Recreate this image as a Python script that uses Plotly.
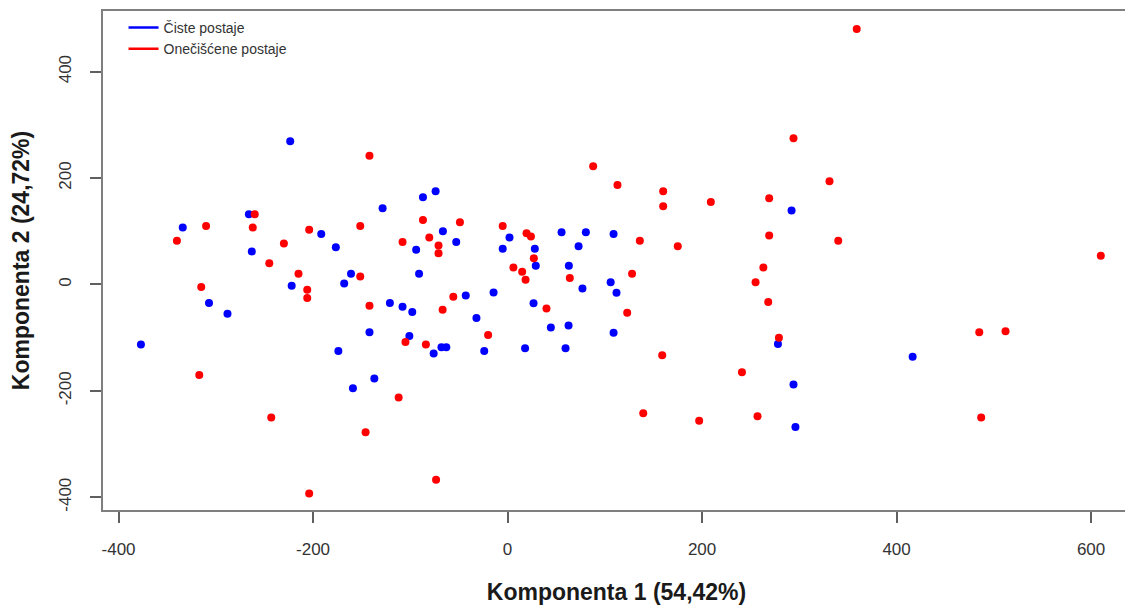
import plotly.graph_objects as go

# PCA scores
ciste_x = [-377, -334, -307, -288, -266, -263, -223.5, -222, -191.6, -176.6, -174, -168, -161,
           -159, -142, -137, -128.5, -121, -108, -101, -98, -94, -91, -87, -76, -74, -68, -63,
           -66.5, -52.8, -43, -32, -24, -14.4, -5, 2, 28, 29, 26.7, 44.5, 55.5, 59.6, 62.7, 63,
           73, 77, 80.5, 18, 106, 109, 109, 112, 278, 292, 294, 296, 416.5]
ciste_y = [-113, 107, -35, -55, 132, 62, 269, -2.5, 95, 70, -125, 2, 20,
           -195, -90, -177, 143, -35, -42, -97, -52, 65, 20, 164, -130, 175, -118, -118,
           100, 80, -21, -63, -125, -15, 67, 88, 67, 35, -35.5, -81, 98, -120, -77, 35,
           72, -7.5, 98, -120, 4, 95, -91, -15.5, -112, 139, -188, -268, -136]

oneciscene_x = [-340, -317, -315, -310, -262, -260, -245, -243, -230, -215, -206, -206, -204,
                -204, -151.5, -151.5, -146, -142, -142, -112, -108, -105, -87, -84, -80.5,
                -73.5, -71, -71, -66.8, -55.8, -49, -20, -5, 6, 15, 18.5, 19.5, 24, 27, 40,
                64, 88, 113, 123, 128, 136, 139.5, 159, 160, 160, 175, 197, 209, 241, 255,
                257, 263, 268, 269, 269, 279, 294, 331, 340, 359, 485, 487, 512, 610]
oneciscene_y = [82, -170, -5, 110, 107, 132, 40, -250, 77, 20, -10, -25.6, 103,
                -393, 110, 15, -278, 242, -40, -212.5, 80, -108, 121, -113, 88,
                -367, 73, 58.5, -47.4, -23, 117, -95, 110, 32, 24, 8.7, 96, 90, 49, -45,
                12, 222, 187, -53, 20, 82, -242, -133, 175, 147, 72, -256, 155, -165, 4,
                -248, 32, -33, 162, 92, -100, 275, 194, 82, 480, -90, -250, -88, 54]

# tick labels as in R (plain hyphen minus)
x_tickovi = [-400, -200, 0, 200, 400, 600]
x_oznake = ["-400", "-200", "0", "200", "400", "600"]
y_tickovi = [-400, -200, 0, 200, 400]
y_oznake = ["-400", "-200", "0", "200", "400"]

plava = "#0000ff"
crvena = "#ff0000"

fig = go.Figure()

fig.add_trace(go.Scatter(x=ciste_x, y=ciste_y, mode="markers",
                         marker=dict(color=plava, size=8), showlegend=False))
fig.add_trace(go.Scatter(x=oneciscene_x, y=oneciscene_y, mode="markers",
                         marker=dict(color=crvena, size=8), showlegend=False))

# legend entries drawn as lines, like the R legend
fig.add_trace(go.Scatter(x=[None], y=[None], mode="lines", name="Čiste postaje",
                         line=dict(color=plava, width=2.5)))
fig.add_trace(go.Scatter(x=[None], y=[None], mode="lines", name="Onečišćene postaje",
                         line=dict(color=crvena, width=2.5)))

os_stil = dict(showgrid=False, zeroline=False, showline=True, mirror=True,
               linecolor="#7f7f7f", linewidth=2, ticks="outside", ticklen=11,
               tickcolor="#606060", tickwidth=1.5, ticklabelstandoff=12,
               tickfont=dict(family="Liberation Sans, Arial", size=17, color="#333333"))

naslov_font = dict(family="Liberation Sans, Arial", size=23, color="#1a1a1a")

fig.update_xaxes(range=[-416, 640], tickmode="array", tickvals=x_tickovi, ticktext=x_oznake,
                 title=dict(text="<b>Komponenta 1 (54,42%)</b>", standoff=25, font=naslov_font),
                 **os_stil)
fig.update_yaxes(range=[-424, 514], tickmode="array", tickvals=y_tickovi, ticktext=y_oznake,
                 tickangle=-90,
                 title=dict(text="<b>Komponenta 2 (24,72%)</b>", standoff=20, font=naslov_font),
                 **os_stil)

# the page body adds 8px, so the figure is a bit smaller than the window
fig.update_layout(
    width=1125, height=601,
    margin=dict(l=95, r=3, t=1, b=99),
    plot_bgcolor="white", paper_bgcolor="white",
    legend=dict(x=0.02, y=0.998, xanchor="left", yanchor="top",
                bgcolor="rgba(0,0,0,0)", borderwidth=0, tracegroupgap=0,
                itemwidth=30,
                font=dict(family="Liberation Sans, Arial", size=14, color="#333333")),
)

fig.write_html("out.html")
